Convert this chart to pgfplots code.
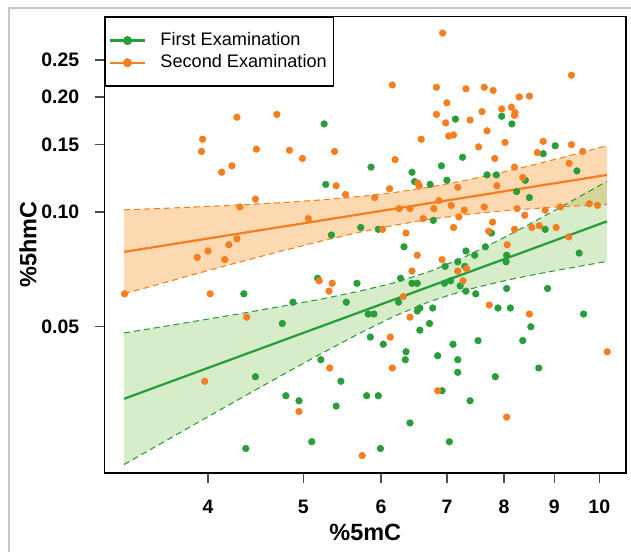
\documentclass[border=0pt]{standalone}
\usepackage{fontspec}
\setmainfont{Liberation Sans}
\usepackage{pgfplots}
\usepackage{pgfplotstable}
\pgfplotsset{compat=1.18}

\definecolor{exgreen}{RGB}{40,158,58}
\definecolor{exorange}{RGB}{245,127,32}
\definecolor{bandgreen}{RGB}{155,208,118}
\definecolor{bandorange}{RGB}{250,160,62}
\definecolor{framegray}{RGB}{200,200,200}

% first examination
\pgfplotstableread{
x y
5.25 0.170
7.14 0.175
7.96 0.178
8.15 0.170
9.02 0.149
8.77 0.142
7.26 0.139
5.86 0.131
6.91 0.132
6.45 0.127
7.69 0.125
7.86 0.125
5.27 0.118
6.49 0.120
6.73 0.118
7.00 0.121
8.41 0.121
9.49 0.128
8.24 0.113
8.49 0.109
6.78 0.095
5.34 0.087
5.72 0.091
5.96 0.090
8.81 0.090
6.33 0.081
7.77 0.088
7.66 0.081
7.47 0.077
7.32 0.079
9.54 0.078
7.18 0.074
8.04 0.074
8.05 0.077
6.97 0.072
7.30 0.072
6.28 0.067
5.17 0.067
5.67 0.065
6.45 0.065
6.53 0.065
6.96 0.065
7.06 0.066
7.22 0.064
7.32 0.062
7.49 0.061
8.05 0.063
8.86 0.063
4.35 0.061
4.88 0.058
5.53 0.058
6.25 0.058
6.57 0.056
6.77 0.056
6.53 0.055
7.89 0.056
8.12 0.056
5.82 0.054
5.90 0.054
9.64 0.054
4.76 0.051
6.72 0.051
8.52 0.050
6.57 0.049
5.85 0.047
7.53 0.046
8.36 0.046
6.03 0.045
7.10 0.045
6.36 0.043
6.85 0.042
5.21 0.041
6.35 0.041
7.18 0.041
8.68 0.039
7.18 0.038
4.47 0.037
7.84 0.037
5.46 0.036
6.92 0.034
4.80 0.033
5.80 0.033
5.96 0.033
4.95 0.032
7.39 0.032
5.40 0.031
6.42 0.028
5.10 0.025
7.04 0.025
4.37 0.024
5.99 0.024
}\firstexam

% second examination
\pgfplotstableread{
x y
6.93 0.294
9.37 0.228
6.16 0.215
6.83 0.212
7.32 0.210
7.64 0.212
7.80 0.208
8.29 0.200
8.49 0.201
7.00 0.193
4.28 0.177
4.70 0.180
6.83 0.180
7.60 0.183
7.96 0.186
8.14 0.188
8.21 0.182
8.20 0.179
6.98 0.171
7.39 0.174
7.69 0.163
7.03 0.158
7.11 0.159
3.95 0.155
3.94 0.144
6.59 0.155
8.02 0.152
8.77 0.153
9.37 0.150
4.48 0.146
4.84 0.145
5.38 0.144
7.54 0.148
8.65 0.143
9.62 0.144
4.99 0.138
6.20 0.137
7.83 0.138
4.23 0.132
4.13 0.127
9.32 0.134
8.20 0.131
8.36 0.123
6.54 0.119
6.56 0.117
7.18 0.116
7.87 0.117
5.40 0.117
6.12 0.115
5.52 0.111
4.47 0.108
5.91 0.109
6.87 0.107
7.07 0.104
9.77 0.105
9.96 0.104
4.31 0.103
6.26 0.102
6.42 0.102
6.79 0.102
7.29 0.101
7.64 0.103
8.25 0.102
8.81 0.101
9.13 0.103
8.40 0.098
7.20 0.097
5.06 0.096
6.62 0.096
7.79 0.094
6.02 0.090
7.11 0.091
8.20 0.090
8.54 0.091
8.69 0.092
9.04 0.091
6.36 0.088
7.72 0.089
9.31 0.086
4.28 0.085
4.20 0.082
4.00 0.079
3.90 0.076
4.16 0.075
8.06 0.082
6.53 0.077
6.92 0.075
7.33 0.071
7.18 0.070
6.45 0.070
7.27 0.066
5.19 0.066
5.35 0.065
5.31 0.062
3.29 0.061
4.02 0.061
6.32 0.060
7.73 0.057
8.49 0.054
4.38 0.053
6.42 0.053
6.13 0.047
5.32 0.039
6.16 0.039
3.97 0.036
10.19 0.043
6.85 0.034
4.95 0.030
8.05 0.029
5.74 0.023
}\secondexam

% confidence bands (upper/lower) for both fits
\pgfplotstableread{
x gu gl ou ol
3.286 0.04818 0.02178 0.10121 0.06098
3.575 0.04991 0.02466 0.10205 0.06478
3.926 0.05196 0.02829 0.10312 0.06926
4.311 0.05411 0.03241 0.10433 0.07396
4.734 0.05647 0.03710 0.10567 0.07878
5.200 0.05901 0.04237 0.10743 0.08371
5.711 0.06203 0.04815 0.10975 0.08851
6.198 0.06528 0.05338 0.11244 0.09233
6.728 0.06984 0.05828 0.11610 0.09567
7.302 0.07623 0.06233 0.12082 0.09834
7.926 0.08455 0.06562 0.12654 0.10046
8.503 0.09299 0.06816 0.13209 0.10187
9.121 0.10263 0.07052 0.13829 0.10309
10.18 0.12020 0.07418 0.14906 0.10470
}\bands

\begin{document}
\begin{tikzpicture}
\useasboundingbox (-78.375pt,-58.5pt) rectangle (394.875pt,354.75pt);
\draw[framegray, line width=1.5pt] (-71.625pt,-60pt) -- (-71.625pt,348.75pt) -- (396pt,348.75pt);
\begin{axis}[
    at={(0pt,0pt)}, anchor=south west,
    scale only axis, width=391.125pt, height=342.375pt,
    xmode=log, ymode=log,
    xmin=3.139, xmax=10.647, ymin=0.0207, ymax=0.3249,
    xtick={4,5,6,7,8,9,10}, xticklabels={4,5,6,7,8,9,10},
    ytick={0.05,0.10,0.15,0.20,0.25}, yticklabels={0.05,0.10,0.15,0.20,0.25},
    xminorticks=false, yminorticks=false,
    tick pos=left, tick align=outside, major tick length=7.5pt,
    major tick style={black!70, line width=1pt},
    axis line style={line width=1.1pt},
    ticklabel style={font=\fontsize{14.6}{16}\selectfont\bfseries},
    xticklabel style={yshift=-9.2pt},
    yticklabel style={xshift=-8pt},
    xlabel={\%5mC}, ylabel={\%5hmC},
    label style={font=\fontsize{17.6}{20}\selectfont\bfseries},
    x label style={at={(axis description cs:0.5,-0.1292)}, anchor=center},
    y label style={at={(axis description cs:-0.1468,0.5)}, anchor=center},
    legend cell align=left,
    legend style={at={(0,1)}, anchor=north west, draw=black, line width=1.1pt,
        font=\fontsize{13.6}{15}\selectfont, inner xsep=3pt, inner ysep=9.2pt,
        nodes={text height=11pt, text depth=3.6pt, inner ysep=1pt}},
    legend image code/.code={
        \draw[#1, mark repeat=2, mark phase=2] plot coordinates {(0pt,0pt) (12.85pt,0pt) (25.7pt,0pt)};
        \path (34.7pt,0pt);
    },
]
\addlegendimage{exgreen, line width=1.7pt, mark=*, mark size=2.5pt, mark options={solid}}
\addlegendentry{First Examination}
\addlegendimage{exorange, line width=1.7pt, mark=*, mark size=2.5pt, mark options={solid}}
\addlegendentry{Second Examination}

\addplot[only marks, mark=*, mark size=2.5pt, color=exgreen, forget plot] table {\firstexam};
\addplot[only marks, mark=*, mark size=2.5pt, color=exorange, forget plot] table {\secondexam};

% band polygons: upper edge left to right, lower edge right to left
\addplot[draw=none, fill=bandorange, fill opacity=0.4, forget plot] coordinates {
(3.286,0.10121) (3.575,0.10205) (3.926,0.10312) (4.311,0.10433) (4.734,0.10567)
(5.200,0.10743) (5.711,0.10975) (6.198,0.11244) (6.728,0.11610) (7.302,0.12082)
(7.926,0.12654) (8.503,0.13209) (9.121,0.13829) (10.18,0.14906)
(10.18,0.10470) (9.121,0.10309) (8.503,0.10187) (7.926,0.10046) (7.302,0.09834)
(6.728,0.09567) (6.198,0.09233) (5.711,0.08851) (5.200,0.08371) (4.734,0.07878)
(4.311,0.07396) (3.926,0.06926) (3.575,0.06478) (3.286,0.06098)
} -- cycle;
\addplot[draw=none, fill=bandgreen, fill opacity=0.4, forget plot] coordinates {
(3.286,0.04818) (3.575,0.04991) (3.926,0.05196) (4.311,0.05411) (4.734,0.05647)
(5.200,0.05901) (5.711,0.06203) (6.198,0.06528) (6.728,0.06984) (7.302,0.07623)
(7.926,0.08455) (8.503,0.09299) (9.121,0.10263) (10.18,0.12020)
(10.18,0.07418) (9.121,0.07052) (8.503,0.06816) (7.926,0.06562) (7.302,0.06233)
(6.728,0.05828) (6.198,0.05338) (5.711,0.04815) (5.200,0.04237) (4.734,0.03710)
(4.311,0.03241) (3.926,0.02829) (3.575,0.02466) (3.286,0.02178)
} -- cycle;

\addplot[exorange, line width=0.8pt, dash pattern=on 4.5pt off 3pt, forget plot] table[x=x, y=ou] {\bands};
\addplot[exorange, line width=0.8pt, dash pattern=on 4.5pt off 3pt, forget plot] table[x=x, y=ol] {\bands};
\addplot[exgreen, line width=0.8pt, dash pattern=on 4.5pt off 3pt, forget plot] table[x=x, y=gu] {\bands};
\addplot[exgreen, line width=0.8pt, dash pattern=on 4.5pt off 3pt, forget plot] table[x=x, y=gl] {\bands};

\addplot[exorange, line width=1.7pt, forget plot] coordinates {(3.286,0.07856) (10.18,0.12493)};
\addplot[exgreen, line width=1.7pt, forget plot] coordinates {(3.286,0.03239) (10.18,0.09443)};
\end{axis}
\end{tikzpicture}
\end{document}
